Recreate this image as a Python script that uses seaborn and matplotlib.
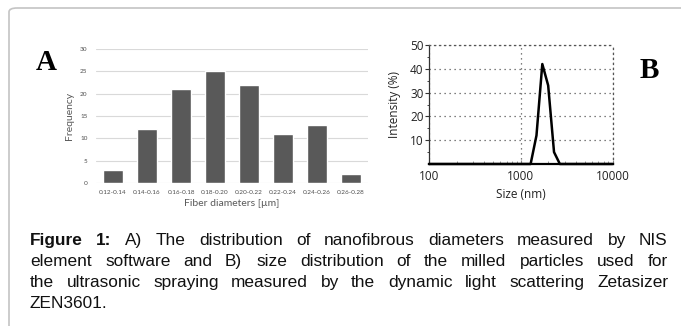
import numpy as np
import pandas as pd
import matplotlib
matplotlib.use("Agg")
import matplotlib.pyplot as plt
import seaborn as sns
from matplotlib.patches import FancyBboxPatch
from matplotlib.ticker import FixedLocator, NullFormatter

# ---- data ----
fiber_bins = ["0.12-0.14", "0.14-0.16", "0.16-0.18", "0.18-0.20",
              "0.20-0.22", "0.22-0.24", "0.24-0.26", "0.26-0.28"]
fiber_freq = [3, 12, 21, 25, 22, 11, 13, 2]
freq_ticks = [0, 5, 10, 15, 20, 25, 30]

size_nm = [100, 1281, 1484, 1718, 1990, 2305, 2669, 10000]
intensity = [0, 0, 12, 42, 33, 5, 0, 0]
int_ticks = [10, 20, 30, 40, 50]
size_ticks = [100, 1000, 10000]

caption_lines = [
    [("Figure", True), ("1:", True), ("A)", False), ("The", False), ("distribution", False),
     ("of", False), ("nanofibrous", False), ("diameters", False), ("measured", False),
     ("by", False), ("NIS", False)],
    [(w, False) for w in "element software and B) size distribution of the milled particles used for".split()],
    [(w, False) for w in "the ultrasonic spraying measured by the dynamic light scattering Zetasizer".split()],
    [(w, False) for w in "ZEN3601.".split()],
]

sns.set_theme(style="white")
W, H = 681, 326
fig = plt.figure(figsize=(W / 100, H / 100), dpi=100)
fig.patch.set_facecolor("white")

def fx(x):
    return x / W

def fy(y):
    return 1 - y / H

# frame
frame = FancyBboxPatch((fx(9), fy(340)), fx(700), fy(8) - fy(340),
                       boxstyle="round,pad=0,rounding_size=0.012",
                       transform=fig.transFigure, fill=False,
                       edgecolor="#c4c4c4", linewidth=1.2, clip_on=False)
fig.patches.append(frame)

# ---- panel A ----
axA = fig.add_axes([fx(96), fy(183), fx(368 - 96), fy(49) - fy(183)])
dfA = pd.DataFrame({"bin": fiber_bins, "freq": fiber_freq})
sns.barplot(data=dfA, x="bin", y="freq", color="#595959", saturation=1,
            width=0.6, ax=axA, zorder=3)
axA.set_ylim(0, 30)
axA.set_yticks(freq_ticks)
axA.yaxis.grid(True, color="#d9d9d9", linewidth=0.8, zorder=0)
axA.set_axisbelow(True)
for s in axA.spines.values():
    s.set_visible(False)
axA.tick_params(axis="both", length=0, labelsize=4.6, labelcolor="#4d4d4d", pad=5)
axA.tick_params(axis="y", pad=6)
axA.set_xlabel("Fiber diameters [µm]", fontsize=7.5, color="#595959", family="Lato", labelpad=3)
axA.set_ylabel("Frequency", fontsize=7.5, color="#595959", family="Lato")
axA.yaxis.set_label_coords(-0.081, 0.5)
for lab in axA.get_xticklabels() + axA.get_yticklabels():
    lab.set_family("Lato")

# ---- panel B ----
axB = fig.add_axes([fx(429), fy(164), fx(612.5 - 429), fy(45) - fy(164)])
dfB = pd.DataFrame({"size": size_nm, "intensity": intensity})
sns.lineplot(data=dfB, x="size", y="intensity", color="black", linewidth=1.8,
             ax=axB, zorder=4, clip_on=False)
axB.set_xscale("log")
axB.set_xlim(100, 10000)
axB.set_ylim(0, 50)
axB.set_yticks(int_ticks)
axB.set_xticks(size_ticks)
axB.set_xticklabels([str(t) for t in size_ticks])
axB.xaxis.set_minor_locator(FixedLocator([m * d for d in (100, 1000) for m in range(2, 10)]))
axB.xaxis.set_minor_formatter(NullFormatter())
axB.yaxis.set_minor_locator(FixedLocator([5, 15, 25, 35, 45]))
axB.grid(True, which="major", linestyle=(0, (1, 3)), color="#555555", linewidth=0.9)
for side in ("top", "right"):
    axB.spines[side].set_linestyle((0, (1, 3)))
    axB.spines[side].set_color("#555555")
    axB.spines[side].set_linewidth(0.9)
axB.spines["left"].set_color("#333333")
axB.spines["left"].set_linewidth(0.9)
axB.spines["bottom"].set_color("black")
axB.spines["bottom"].set_linewidth(1.6)
axB.tick_params(axis="y", which="major", direction="out", length=3, width=0.8,
                labelsize=8.5, pad=1, left=True, color="#333333")
axB.tick_params(axis="y", which="minor", direction="out", length=1.5, width=0.6, left=True)
axB.tick_params(axis="x", which="major", direction="in", length=3, width=0.8,
                labelsize=8.5, pad=4, bottom=True, color="#888888")
axB.tick_params(axis="x", which="minor", direction="in", length=2, width=0.6, bottom=True, color="#888888")
axB.set_xlabel("Size (nm)", fontsize=8.5, family="Open Sans", labelpad=4, color="#222222")
axB.set_ylabel("Intensity (%)", fontsize=8.5, family="Open Sans", labelpad=6, color="#222222")
for lab in axB.get_xticklabels() + axB.get_yticklabels():
    lab.set_family("Open Sans")
    lab.set_color("#222222")

# panel letters
fig.text(fx(46), fy(62), "A", fontsize=21, fontweight="bold", family="Liberation Serif",
         ha="center", va="center", color="black")
fig.text(fx(649), fy(70), "B", fontsize=21, fontweight="bold", family="Liberation Serif",
         ha="center", va="center", color="black")

# ---- justified caption ----
renderer = fig.canvas.get_renderer()
left_px, right_px = 30, 668
baselines = [245, 266, 287, 308]
for li, (words, base) in enumerate(zip(caption_lines, baselines)):
    texts = []
    for w, bold in words:
        t = fig.text(0, fy(base), w, fontsize=12.4, family="Liberation Sans",
                     fontweight="bold" if bold else "normal", ha="left",
                     va="baseline", color="#111111")
        texts.append(t)
    widths = [t.get_window_extent(renderer).width for t in texts]
    if li < len(caption_lines) - 1 and len(texts) > 1:
        gap = (right_px - left_px - sum(widths)) / (len(texts) - 1)
    else:
        gap = 3.5
    x = left_px
    for t, wd in zip(texts, widths):
        t.set_x(fx(round(x)))
        x += wd + gap

fig.savefig("out.png", dpi=100, facecolor="white")
